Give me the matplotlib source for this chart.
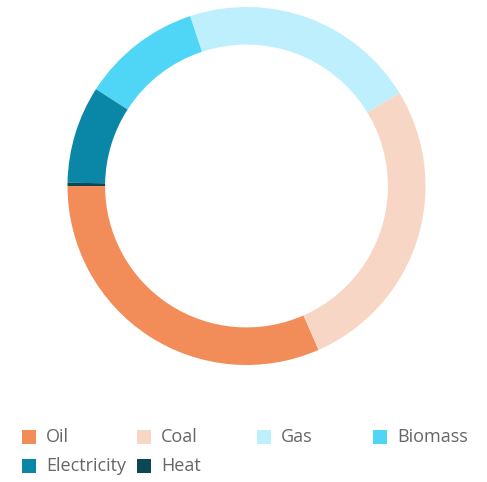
import matplotlib
matplotlib.use('Agg')
import matplotlib.pyplot as plt
from matplotlib.patches import Rectangle

plt.rcParams['font.family'] = ['Open Sans', 'DejaVu Sans']

# energy sources, share of final consumption (%)
sources = ['Oil', 'Coal', 'Gas', 'Biomass', 'Electricity', 'Heat']
shares = [31.6, 27.1, 21.4, 10.8, 8.8, 0.3]
colors = ['#F28C58', '#F8D6C6', '#BDEFFC', '#4FD6F7', '#0A86A6', '#0B4756']

W, H = 487, 482
fig = plt.figure(figsize=(W / 100, H / 100), dpi=100)

# donut
cx, cy, r = 246.5, 186, 179
ax = fig.add_axes([(cx - r) / W, (H - cy - r) / H, 2 * r / W, 2 * r / H])
ax.pie(shares, colors=colors, startangle=180, counterclock=True,
       wedgeprops=dict(width=0.21, linewidth=0))
ax.set_xlim(-1, 1)
ax.set_ylim(-1, 1)
ax.set_aspect('equal')
ax.axis('off')

# legend, 4 columns
col_x = [22, 137, 257, 373]
row_y = [437, 466]
for i, (name, c) in enumerate(zip(sources, colors)):
    x = col_x[i % 4]
    y = row_y[i // 4]
    fig.patches.append(Rectangle((x / W, (H - y - 7) / H), 14 / W, 14 / H,
                                 transform=fig.transFigure, facecolor=c,
                                 edgecolor='none'))
    fig.text((x + 24) / W, (H - y) / H, name, fontsize=13, color='#666666',
             va='center', ha='left')

fig.savefig('out.png', dpi=100, facecolor='white')
